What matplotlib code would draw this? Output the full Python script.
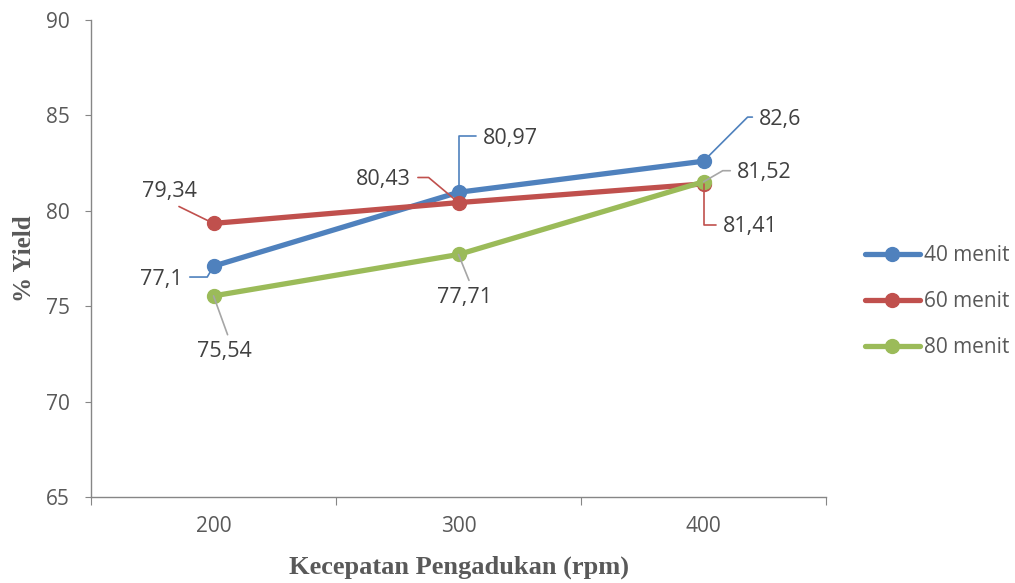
import numpy as np
import matplotlib.pyplot as plt

speeds = ["200", "300", "400"]
yield_40 = [77.1, 80.97, 82.6]
yield_60 = [79.34, 80.43, 81.41]
yield_80 = [75.54, 77.71, 81.52]
series_names = ["40 menit", "60 menit", "80 menit"]

colors = ["#4F81BD", "#C0504D", "#9BBB59"]
leader_colors = ["#4F81BD", "#C0504D", "#A6A6A6"]

# label offsets in pixels (dx, dy) and leader style per point
label_offsets = [
    [(-52, -13), (52, 54), (77, 42)],
    [(-44, 32), (-75, 23), (47, -43)],
    [(11, -56), (6, -43), (61, 9)],
]
label_styles = [
    [("angle,angleA=0,angleB=60,rad=0", (1, 0.6)),
     ("angle,angleA=0,angleB=90,rad=0", (0, 0.6)),
     ("angle,angleA=0,angleB=45,rad=0", (0, 0.6))],
    [("arc3", (0.5, 0.0)),
     ("angle,angleA=0,angleB=-40,rad=0", (1, 0.6)),
     ("angle,angleA=0,angleB=90,rad=0", (0, 0.6))],
    [("arc3", (0.6, 1.0)),
     ("arc3", (0.63, 1.0)),
     ("angle,angleA=0,angleB=30,rad=0", (0, 0.6))],
]

font = ["Open Sans", "DejaVu Sans"]
txt_color = "#404040"

fig = plt.figure(figsize=(10.15, 5.83), dpi=100)
ax = fig.add_axes([0.0897, 0.1475, 0.7241, 0.8182])

x = np.arange(len(speeds)) + 0.5
all_series = [yield_40, yield_60, yield_80]
for i, vals in enumerate(all_series):
    ax.plot(x, vals, color=colors[i], lw=3.8, marker="o", markersize=10,
            label=series_names[i], zorder=3, solid_capstyle="round")

for i, vals in enumerate(all_series):
    for j, v in enumerate(vals):
        style, rel = label_styles[i][j]
        ax.annotate(f"{v:g}".replace(".", ","), xy=(x[j], v),
                    xytext=label_offsets[i][j], textcoords="offset pixels",
                    ha="center", va="center", fontsize=15.5, family=font,
                    color=txt_color, zorder=4,
                    arrowprops=dict(arrowstyle="-", color=leader_colors[i],
                                    lw=1.2, shrinkA=3, shrinkB=0,
                                    connectionstyle=style, relpos=rel))

ax.set_xlim(0, 3)
ax.set_ylim(65, 90)
ax.set_yticks(np.arange(65, 91, 5))
ax.set_xticks([0, 1, 2, 3])
ax.set_xticklabels([])
ax.set_xticks(x, minor=True)
ax.set_xticklabels(speeds, minor=True)
ax.tick_params(axis="x", which="major", length=5.5, color="#868686", direction="out")
ax.tick_params(axis="x", which="minor", length=0, pad=14)
ax.tick_params(axis="y", length=4.5, color="#868686", pad=10.5)
for lab in ax.get_xticklabels(minor=True) + ax.get_yticklabels():
    lab.set_family(font)
    lab.set_fontsize(15)
    lab.set_color("#595959")

for s in ["top", "right"]:
    ax.spines[s].set_visible(False)
for s in ["left", "bottom"]:
    ax.spines[s].set_color("#868686")
    ax.spines[s].set_linewidth(1.0)

ax.set_xlabel("Kecepatan Pengadukan (rpm)", family="Liberation Serif",
              fontweight="bold", fontsize=19, color="#595959", labelpad=13)
ax.set_ylabel("% Yield", family="Liberation Serif", fontweight="bold",
              fontsize=18, color="#595959", labelpad=7)

leg = ax.legend(loc="center left", bbox_to_anchor=(1.053, 0.409), frameon=False,
                handlelength=2.64, handletextpad=0.2, labelspacing=1.2,
                borderpad=0, borderaxespad=0,
                prop={"family": font, "size": 15})
for t in leg.get_texts():
    t.set_color("#595959")

fig.savefig("out.png", dpi=100)
